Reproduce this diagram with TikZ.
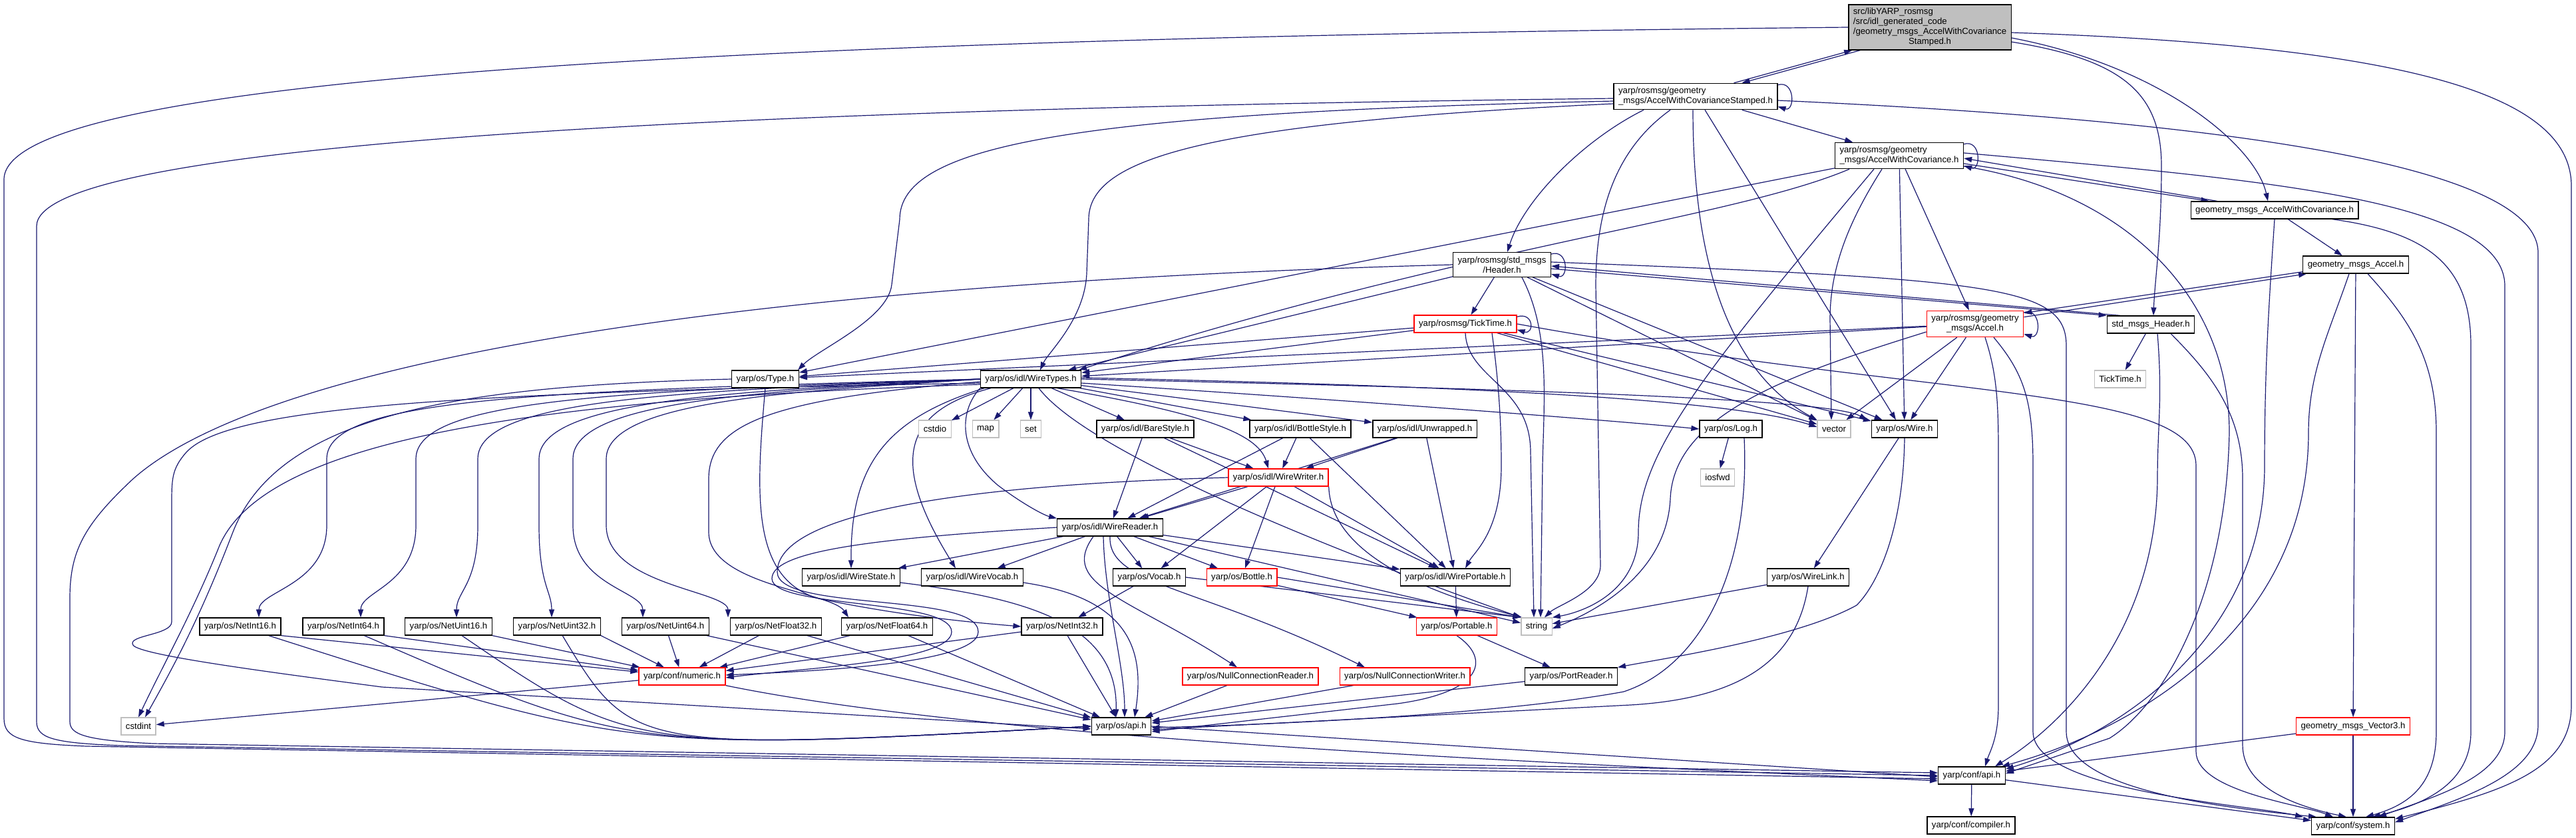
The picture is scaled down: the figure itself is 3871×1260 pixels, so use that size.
\documentclass[tikz,border=0pt]{standalone}
\usepackage{fontspec}
\setmainfont{Liberation Sans}
\usetikzlibrary{arrows.meta,backgrounds}
\definecolor{edgeblue}{HTML}{191970}
\definecolor{boxgray}{HTML}{BFBFBF}
\tikzset{
  hdr/.style={draw=black, fill=white, line width=1.3pt, inner xsep=7pt, inner ysep=0pt, minimum height=26pt, font=\fontsize{13.2}{15}\selectfont},
  hdrred/.style={hdr, draw=red},
  hdrgray/.style={hdr, draw=boxgray, line width=1.3pt},
  hdrroot/.style={hdr, fill=boxgray},
  multi/.style={inner ysep=6pt},
  dep/.style={draw=edgeblue, line width=1.2pt, -{Triangle[length=12pt,width=8pt]}},
}
\begin{document}
\begin{tikzpicture}[x=1pt,y=-1pt]
  \useasboundingbox (0,0) rectangle (3871,1260);
  % top part
  \node[hdrroot, inner ysep=4pt] (root) at (2900,41) {\begin{tabular}{@{}l@{}}src/libYARP\_rosmsg\\/src/idl\_generated\_code\\/geometry\_msgs\_AccelWithCovariance\\\multicolumn{1}{@{}c@{}}{Stamped.h}\end{tabular}};
  \node[hdr, multi, align=left] (awcs) at (2548,145) {yarp/rosmsg/geometry\\\_msgs/AccelWithCovarianceStamped.h};
  \node[hdr, multi, align=left] (awc) at (2854,234) {yarp/rosmsg/geometry\\\_msgs/AccelWithCovariance.h};
  \node[hdr, multi, align=center] (header) at (2257,398) {yarp/rosmsg/std\_msgs\\/Header.h};
  \node[hdrred] (ticktime) at (2202,487) {yarp/rosmsg/TickTime.h};
  \node[hdrred, multi, align=center] (accel) at (2968,487) {yarp/rosmsg/geometry\\\_msgs/Accel.h};
  \node[hdr] (gmawc) at (3418,316) {geometry\_msgs\_AccelWithCovariance.h};
  \node[hdr] (gmaccel) at (3540,398) {geometry\_msgs\_Accel.h};
  \node[hdr] (smheader) at (3232,488) {std\_msgs\_Header.h};
  \node[hdrgray] (tickgray) at (3186,570) {TickTime.h};
  % middle part
  \node[hdr] (type) at (1150,570) {yarp/os/Type.h};
  \node[hdr] (wiretypes) at (1549,570) {yarp/os/idl/WireTypes.h};
  \node[hdrgray] (ncstdio) at (1405,645) {cstdio};
  \node[hdrgray] (nmap) at (1481,645) {map};
  \node[hdrgray] (nset) at (1549,645) {set};
  \node[hdr] (barestyle) at (1721,645) {yarp/os/idl/BareStyle.h};
  \node[hdr] (bottlestyle) at (1954,645) {yarp/os/idl/BottleStyle.h};
  \node[hdr] (unwrapped) at (2141,645) {yarp/os/idl/Unwrapped.h};
  \node[hdr] (log) at (2601,645) {yarp/os/Log.h};
  \node[hdrgray] (nvector) at (2756,645) {vector};
  \node[hdr] (wire) at (2862,645) {yarp/os/Wire.h};
  \node[hdrred] (wirewriter) at (1921,718) {yarp/os/idl/WireWriter.h};
  \node[hdrgray] (iosfwd) at (2581,718) {iosfwd};
  \node[hdr] (wirereader) at (1668,793) {yarp/os/idl/WireReader.h};
  \node[hdr] (wirestate) at (1279,868) {yarp/os/idl/WireState.h};
  \node[hdr] (wirevocab) at (1461,868) {yarp/os/idl/WireVocab.h};
  \node[hdr] (vocab) at (1727,868) {yarp/os/Vocab.h};
  \node[hdrred] (bottle) at (1866,868) {yarp/os/Bottle.h};
  \node[hdr] (wireportable) at (2187,868) {yarp/os/idl/WirePortable.h};
  \node[hdr] (wirelink) at (2717,868) {yarp/os/WireLink.h};
  % bottom part
  \node[hdr] (netint16) at (361,942) {yarp/os/NetInt16.h};
  \node[hdr] (netint64) at (516,942) {yarp/os/NetInt64.h};
  \node[hdr] (netuint16) at (674,942) {yarp/os/NetUint16.h};
  \node[hdr] (netuint32) at (837,942) {yarp/os/NetUint32.h};
  \node[hdr] (netuint64) at (1000,942) {yarp/os/NetUint64.h};
  \node[hdr] (netfloat32) at (1166,942) {yarp/os/NetFloat32.h};
  \node[hdr] (netfloat64) at (1333,942) {yarp/os/NetFloat64.h};
  \node[hdr] (netint32) at (1596,942) {yarp/os/NetInt32.h};
  \node[hdrred] (portable) at (2189,942) {yarp/os/Portable.h};
  \node[hdrgray] (nstring) at (2309,942) {string};
  \node[hdrred] (numeric) at (1025,1017) {yarp/conf/numeric.h};
  \node[hdrred] (nullreader) at (1879,1017) {yarp/os/NullConnectionReader.h};
  \node[hdrred] (nullwriter) at (2111,1017) {yarp/os/NullConnectionWriter.h};
  \node[hdr] (portreader) at (2361,1017) {yarp/os/PortReader.h};
  \node[hdr] (osapi) at (1685,1092) {yarp/os/api.h};
  \node[hdrgray] (cstdint) at (208,1092) {cstdint};
  \node[hdrred] (vector3) at (3536,1092) {geometry\_msgs\_Vector3.h};
  \node[hdr] (confapi) at (2963,1166) {yarp/conf/api.h};
  \node[hdr] (compiler) at (2962,1241) {yarp/conf/compiler.h};
  \node[hdr] (system) at (3536,1242) {yarp/conf/system.h};

  \begin{pgfonlayer}{background}
  \fill[white] (0,0) rectangle (3871,1260);
  % straight includes
  \foreach \a/\b in {awcs/awc, header/ticktime, gmawc/gmaccel, smheader/tickgray, gmaccel/vector3, vector3/system, vector3/confapi, confapi/compiler, confapi/system, numeric/cstdint,
      wiretypes/ncstdio, wiretypes/nmap, wiretypes/nset, wiretypes/barestyle, wiretypes/bottlestyle, wiretypes/unwrapped,
      barestyle/wirewriter, bottlestyle/wirewriter, unwrapped/wirewriter, barestyle/wirereader, bottlestyle/wirereader, unwrapped/wirereader, wirewriter/wirereader,
      wirewriter/vocab, wirewriter/bottle, wirewriter/wireportable, barestyle/wireportable, bottlestyle/wireportable, unwrapped/wireportable,
      wirereader/wirestate, wirereader/wirevocab, wirereader/vocab, wirereader/bottle, wirereader/wireportable, wirereader/nstring,
      vocab/netint32, bottle/portable, wireportable/portable, portable/portreader, portreader/osapi, wirelink/nstring, wire/wirelink, log/iosfwd,
      nullreader/osapi, nullwriter/osapi, awc/accel, awc/wire, accel/wire, accel/nvector, accel/type, accel/wiretypes,
      ticktime/type, ticktime/wiretypes, header/wiretypes, awc/type, ticktime/nvector, ticktime/wire, header/nvector, header/wire,
      netuint64/osapi, netfloat32/osapi, netfloat64/osapi, netint32/osapi, netuint64/numeric, netfloat32/numeric, netfloat64/numeric, netint32/numeric}
    \draw[dep] (\a) -- (\b);
  \draw[dep] (vocab.east) -- (nstring.north west);
  \draw[dep] (bottle.east) -- (nstring.north west);
  \draw[dep] ([xshift=14pt]awcs.south) -- ([xshift=-13pt]wire.north);
  \draw[dep] (osapi.east) -- ([yshift=-2pt]confapi.west);
  \foreach \n in {netint16,netint64,netuint16,netuint32} {
    \draw[dep] (\n.south east) -- (numeric);
    \draw[dep] (\n) .. controls (950,1130) .. (osapi.west);
  }
  % self includes
  \foreach \n in {awcs,awc,header,ticktime,accel}
    \draw[dep] ([yshift=-3pt]\n.north east) .. controls +(26,-8) and +(26,8) .. ([yshift=5pt]\n.south east);
  % root
  \draw[dep] ([xshift=18pt]root.south west) -- ([xshift=-54pt]awcs.north east);
  \draw[dep] ([xshift=-66pt]awcs.north east) -- ([xshift=6pt]root.south west);
  \draw[dep] (root.west) .. controls (900,60) and (6,130) .. (6,270) -- (6,1080) .. controls (6,1110) and (30,1118) .. (130,1122) -- ([yshift=-5pt]confapi.west);
  \draw[dep] ([yshift=-8pt]root.east) .. controls (3650,70) and (3864,150) .. (3864,280) -- (3864,1060) .. controls (3864,1160) and (3760,1190) .. ([yshift=-3pt]system.north east);
  \draw[dep] ([yshift=-16pt]root.east) .. controls (3250,100) and (3390,220) .. ([xshift=-10pt]gmawc.north);
  \draw[dep] ([yshift=-22pt]root.east) .. controls (3190,90) and (3248,140) .. (3248,250) .. controls (3248,360) and (3238,420) .. ([xshift=4pt]smheader.north);
  % awcs
  \draw[dep] ([xshift=-78pt]awcs.south) .. controls (2380,210) and (2290,300) .. ([xshift=8pt]header.north);
  \draw[dep] ([xshift=-38pt]awcs.south) .. controls (2420,230) and (2398,330) .. (2398,430) -- (2405,850) .. controls (2405,890) and (2340,910) .. ([xshift=12pt]nstring.north);
  \draw[dep] ([xshift=-4pt]awcs.south) .. controls (2544,400) and (2600,560) .. (nvector.north west);
  \draw[dep] ([yshift=-3pt]awcs.west) .. controls (1000,165) and (55,220) .. (55,340) -- (55,1085) .. controls (55,1110) and (80,1117) .. (180,1121) -- (confapi.west);
  \draw[dep] ([yshift=-7pt]awcs.west) .. controls (1600,170) and (1352,220) .. (1352,330) -- (1340,428) .. controls (1334,480) and (1230,525) .. ([xshift=49pt]type.north);
  \draw[dep] ([yshift=-11pt]awcs.west) .. controls (1800,185) and (1636,240) .. (1636,330) -- (1633,411) .. controls (1630,480) and (1575,530) .. ([xshift=14pt]wiretypes.north);
  \draw[dep] ([yshift=-6pt]awcs.east) .. controls (3200,175) and (3814,230) .. (3814,380) -- (3814,1090) .. controls (3814,1165) and (3700,1200) .. ([yshift=-8pt]system.north east);
  % awc
  \draw[dep] ([yshift=-12pt]awc.east) -- ([xshift=28pt]gmawc.north west);
  \draw[dep] ([xshift=40pt]gmawc.north west) -- ([yshift=-4pt]awc.east);
  \draw[dep] ([yshift=4pt]awc.east) .. controls (3400,270) and (3764,300) .. (3764,430) -- (3764,1100) .. controls (3764,1170) and (3650,1200) .. ([xshift=-25pt]system.north east);
  \draw[dep] ([yshift=-16pt]awc.east) .. controls (3200,290) and (3350,450) .. (3350,650) .. controls (3345,900) and (3250,1060) .. (3170,1110) -- ([yshift=3pt]confapi.east);
  \draw[dep] ([xshift=-26pt]awc.south) .. controls (2780,330) and (2750,400) .. (2750,480) -- ([xshift=-4pt]nvector.north);
  \draw[dep] ([xshift=-38pt]awc.south) .. controls (2560,560) and (2462,680) .. (2462,800) .. controls (2462,890) and (2380,920) .. (nstring.north east);
  \draw[dep] ([xshift=-75pt]awc.south) .. controls (2600,330) and (2200,370) .. ([xshift=-4pt]wiretypes.north east);
  % header
  \draw[dep] ([yshift=-6pt]header.east) -- (smheader.north west);
  \draw[dep] ([xshift=20pt]smheader.north west) -- ([yshift=-2pt]header.east);
  \draw[dep] (header.west) .. controls (1000,430) and (380,560) .. (200,720) .. controls (125,790) and (105,830) .. (105,900) -- (105,1085) .. controls (105,1105) and (130,1113) .. (230,1118) -- ([yshift=4pt]confapi.west);
  \draw[dep] ([yshift=4pt]header.east) .. controls (3000,420) and (3105,430) .. (3105,520) -- (3105,1100) .. controls (3105,1190) and (3350,1215) .. ([xshift=-55pt]system.north);
  \draw[dep] ([xshift=30pt]header.south) .. controls (2330,500) and (2320,600) .. (2318,700) -- ([xshift=6pt]nstring.north);
  % ticktime
  \draw[dep] (ticktime.south) .. controls (2205,570) and (2300,580) .. (2300,680) -- ([xshift=-4pt]nstring.north);
  \draw[dep] ([xshift=40pt]ticktime.south) .. controls (2250,560) and (2256,620) .. (2256,700) .. controls (2256,800) and (2215,830) .. ([xshift=15pt]wireportable.north);
  \draw[dep] (ticktime.east) .. controls (2900,600) and (3300,580) .. (3300,700) -- (3300,1130) .. controls (3300,1190) and (3460,1210) .. ([xshift=-30pt]system.north);
  % accel
  \draw[dep] ([yshift=-10pt]accel.north east) -- ([xshift=6pt]gmaccel.south west);
  \draw[dep] ([yshift=3pt]gmaccel.south west) -- ([yshift=-4pt]accel.north east);
  \draw[dep] ([yshift=-12pt]accel.west) .. controls (2700,560) and (2515,620) .. (2510,750) .. controls (2505,850) and (2420,910) .. ([yshift=-3pt]nstring.east);
  \draw[dep] ([xshift=15pt]accel.south) .. controls (3000,560) and (3003,600) .. (3003,680) -- (3003,1060) .. controls (3003,1110) and (2990,1130) .. ([xshift=20pt]confapi.north);
  \draw[dep] ([xshift=28pt]accel.south) .. controls (3040,560) and (3055,600) .. (3055,700) -- (3055,1100) .. controls (3055,1190) and (3380,1210) .. ([xshift=-75pt]system.north);
  % geometry_msgs and std_msgs headers
  \draw[dep] (gmawc.south) .. controls (3410,450) and (3403,550) .. (3403,700) .. controls (3403,950) and (3200,1100) .. ([yshift=-4pt]confapi.north east);
  \draw[dep] ([xshift=87pt]gmawc.south) .. controls (3650,350) and (3713,400) .. (3713,520) -- (3713,1100) .. controls (3713,1180) and (3640,1210) .. ([xshift=-34pt]system.north east);
  \draw[dep] ([xshift=-10pt]gmaccel.south) .. controls (3500,500) and (3469,560) .. (3469,650) .. controls (3469,950) and (3200,1100) .. ([xshift=-6pt]confapi.north east);
  \draw[dep] ([xshift=18pt]gmaccel.south) .. controls (3620,480) and (3661,540) .. (3661,650) -- (3661,1100) .. controls (3661,1180) and (3620,1210) .. ([xshift=-44pt]system.north east);
  \draw[dep] ([xshift=10pt]smheader.south) .. controls (3250,600) and (3242,640) .. (3242,720) .. controls (3240,950) and (3100,1090) .. ([xshift=-16pt]confapi.north east);
  \draw[dep] ([xshift=30pt]smheader.south) .. controls (3320,560) and (3370,620) .. (3370,720) -- (3370,1120) .. controls (3370,1180) and (3440,1210) .. ([xshift=-10pt]system.north);
  % WireTypes.h
  \draw[dep] ([xshift=40pt]wiretypes.south) .. controls (1800,620) and (1890,650) .. ([xshift=-15pt]wirewriter.north);
  \draw[dep] (wiretypes.south west) .. controls (1440,620) and (1440,680) .. (1500,730) .. controls (1540,760) and (1570,775) .. (wirereader.north west);
  \draw[dep] ([xshift=-70pt]wiretypes.south) .. controls (1330,630) and (1278,700) .. (wirestate.north);
  \draw[dep] ([xshift=-60pt]wiretypes.south) .. controls (1350,620) and (1340,700) .. ([xshift=-25pt]wirevocab.north);
  \draw[dep] ([xshift=12pt]wiretypes.south) .. controls (1650,700) and (2150,880) .. (nstring.north west);
  \draw[dep] ([yshift=2pt]wiretypes.east) .. controls (2200,580) and (2600,600) .. ([yshift=3pt]nvector.west);
  \draw[dep] (wiretypes.east) .. controls (2300,585) and (2750,600) .. ([xshift=-6pt]wire.north west);
  \draw[dep] ([yshift=-6pt]wiretypes.east) .. controls (2000,600) and (2400,630) .. (log.west);
  \foreach \n/\vx/\sh in {netint16/491/28, netint64/625/26, netuint16/718/12, netuint32/810/-8, netuint64/861/-34, netfloat32/911/-72}
    \draw[dep] (wiretypes.west) .. controls ({\vx+300},588) and (\vx,600) .. (\vx,690) -- (\vx,790) .. controls (\vx,880) and ([xshift=\sh pt,yshift=40pt]\n.north) .. ([xshift=\sh pt]\n.north);
  \draw[dep] ([yshift=-4pt]wiretypes.west) .. controls (1150,600) and (1065,640) .. (1065,720) -- (1065,800) .. controls (1065,880) and (1250,890) .. ([xshift=-58pt]netfloat64.north);
  \draw[dep] ([yshift=-8pt]wiretypes.west) .. controls (800,600) and (400,660) .. (330,820) .. controls (290,920) and (245,1000) .. (cstdint.north);
  \draw[dep] ([yshift=-6pt]wiretypes.west) .. controls (700,590) and (344,610) .. (280,680) .. controls (258,705) and (258,720) .. (258,760) -- (258,935) .. controls (258,955) and (190,955) .. (200,970) .. controls (210,985) and (400,1010) .. (574,1033) -- ([yshift=-4pt]osapi.west);
  % Type.h
  \draw[dep] (type.west) .. controls (700,580) and (420,620) .. (350,800) .. controls (300,930) and (262,1000) .. ([xshift=10pt]cstdint.north);
  \draw[dep] (type.south) .. controls (1135,750) and (1130,870) .. (1230,900) .. controls (1350,925) and (1450,935) .. (netint32.west);
  % idl readers and writers
  \draw[dep] (wirewriter.west) .. controls (1400,730) and (1168,780) .. (1168,860) .. controls (1168,920) and (1470,890) .. (1470,950) .. controls (1470,1000) and (1200,1010) .. ([yshift=2pt]numeric.east);
  \draw[dep] (wirereader.west) .. controls (1300,810) and (1160,830) .. (1160,870) .. controls (1160,915) and (1430,900) .. (1430,950) .. controls (1430,995) and (1200,1005) .. ([yshift=-2pt]numeric.east);
  \draw[dep] ([xshift=-10pt]wirereader.south) .. controls (1660,900) and (1690,1000) .. ([xshift=5pt]osapi.north);
  \draw[dep] ([xshift=-25pt]wirereader.south) .. controls (1590,880) and (1700,900) .. ([xshift=-20pt]nullreader.north);
  \draw[dep] (wirereader.south) .. controls (1665,880) and (1800,880) .. ([xshift=-60pt]nullwriter.north);
  \draw[dep] ([yshift=-8pt]wirestate.east) .. controls (1550,900) and (1680,940) .. ([xshift=-8pt]osapi.north);
  \draw[dep] ([yshift=-8pt]wirevocab.east) .. controls (1700,900) and (1720,980) .. ([xshift=20pt]osapi.north);
  \draw[dep] (wirewriter.south east) .. controls (2000,850) and (2200,905) .. ([xshift=2pt]nstring.north west);
  % os headers
  \draw[dep] ([xshift=20pt]log.south) .. controls (2630,850) and (2560,1000) .. (2440,1040) .. controls (2250,1075) and (1900,1090) .. ([yshift=-2pt]osapi.east);
  \draw[dep] (wire.south) .. controls (2860,800) and (2820,880) .. (2790,910) .. controls (2700,960) and (2500,990) .. (portreader.north east);
  \draw[dep] (wirelink.south) .. controls (2700,990) and (2620,1050) .. (2450,1060) -- ([yshift=-5pt]osapi.east);
  \draw[dep] (portable.south) .. controls (2240,990) and (2230,1040) .. (2100,1058) -- ([yshift=-8pt]osapi.east);
  \draw[dep] (numeric.south east) .. controls (1500,1115) and (2400,1150) .. ([yshift=-8pt]confapi.west);
  \end{pgfonlayer}
\end{tikzpicture}
\end{document}
